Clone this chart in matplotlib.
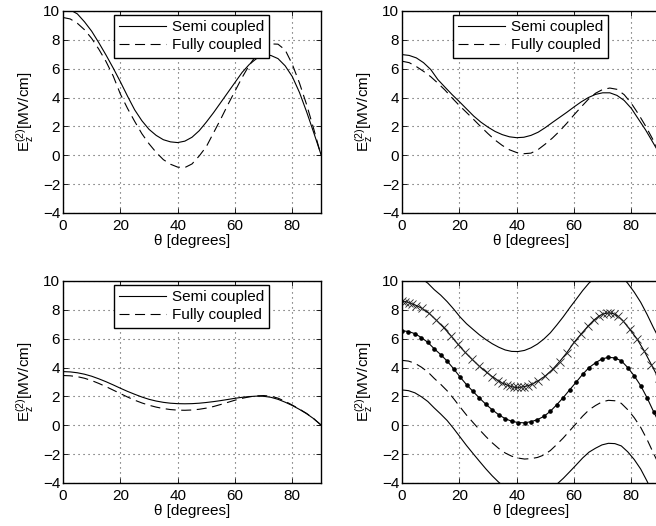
import numpy as np
import matplotlib
matplotlib.use("Agg")
import matplotlib.pyplot as plt

plt.rcParams["font.family"] = ["Liberation Sans", "DejaVu Sans"]
plt.rcParams["mathtext.fontset"] = "custom"
plt.rcParams["mathtext.rm"] = "Liberation Sans"
plt.rcParams["mathtext.it"] = "Liberation Sans"
plt.rcParams["font.size"] = 11

# theta grid for the three two-curve panels
theta = np.arange(0, 90.01, 2.5)

semi_a = [10.15, 10.08, 9.80, 9.25, 8.60, 7.80, 6.95, 6.05, 5.10, 4.10, 3.15, 2.40, 1.80,
          1.38, 1.08, 0.93, 0.88, 0.98, 1.25, 1.70, 2.30, 2.95, 3.65, 4.35, 5.05, 5.75,
          6.30, 6.70, 6.92, 6.92, 6.70, 6.20, 5.45, 4.35, 3.00, 1.55, 0.05]
fully_a = [9.55, 9.45, 9.15, 8.70, 8.10, 7.35, 6.50, 5.50, 4.25, 3.25, 2.35, 1.50, 0.80,
           0.20, -0.30, -0.62, -0.82, -0.85, -0.60, -0.05, 0.60, 1.55, 2.50, 3.50, 4.45,
           5.40, 6.25, 6.95, 7.45, 7.72, 7.70, 7.30, 6.30, 5.00, 3.50, 1.80, 0.00]

semi_b = [6.98, 6.92, 6.75, 6.42, 5.95, 5.25, 4.72, 4.20, 3.72, 3.22, 2.72, 2.30, 1.95,
          1.65, 1.43, 1.28, 1.22, 1.25, 1.38, 1.60, 1.92, 2.28, 2.63, 2.98, 3.35, 3.70,
          4.00, 4.22, 4.33, 4.33, 4.15, 3.80, 3.25, 2.50, 1.75, 0.90, 0.05]
fully_b = [6.52, 6.42, 6.15, 5.82, 5.45, 5.00, 4.52, 3.97, 3.45, 2.97, 2.48, 1.98, 1.50,
           1.05, 0.68, 0.38, 0.19, 0.11, 0.15, 0.40, 0.78, 1.20, 1.68, 2.22, 2.80, 3.35,
           3.88, 4.30, 4.56, 4.66, 4.57, 4.20, 3.60, 2.85, 2.02, 1.10, 0.10]

semi_c = [3.72, 3.70, 3.64, 3.54, 3.40, 3.22, 3.02, 2.80, 2.57, 2.35, 2.15, 1.96, 1.80,
          1.68, 1.59, 1.53, 1.50, 1.49, 1.50, 1.53, 1.58, 1.64, 1.71, 1.79, 1.87, 1.94,
          1.99, 2.02, 2.01, 1.94, 1.80, 1.60, 1.37, 1.10, 0.80, 0.45, 0.02]
fully_c = [3.45, 3.43, 3.37, 3.26, 3.10, 2.90, 2.68, 2.44, 2.20, 1.96, 1.74, 1.55, 1.39,
           1.26, 1.16, 1.09, 1.05, 1.04, 1.06, 1.11, 1.19, 1.30, 1.44, 1.59, 1.74, 1.87,
           1.97, 2.04, 2.06, 2.02, 1.88, 1.66, 1.40, 1.12, 0.82, 0.45, 0.02]

# fourth panel: mean curve with dots, bands around it
theta_d = np.arange(0, 90.01, 2.25)
mean_d = [6.55, 6.50, 6.35, 6.08, 5.75, 5.30, 4.90, 4.45, 3.92, 3.35, 2.82, 2.35, 1.89,
          1.46, 1.07, 0.73, 0.46, 0.28, 0.19, 0.17, 0.25, 0.39, 0.62, 0.97, 1.43, 1.92,
          2.46, 2.99, 3.53, 4.00, 4.33, 4.60, 4.71, 4.67, 4.47, 4.00, 3.43, 2.75, 1.90,
          0.95, 0.05]
minus1_d = [4.50, 4.45, 4.30, 4.03, 3.70, 3.25, 2.84, 2.39, 1.85, 1.27, 0.71, 0.20, -0.30,
            -0.78, -1.22, -1.61, -1.92, -2.14, -2.27, -2.34, -2.31, -2.23, -2.06, -1.75,
            -1.33, -0.88, -0.38, 0.12, 0.63, 1.07, 1.37, 1.62, 1.73, 1.70, 1.52, 1.08,
            0.53, -0.14, -0.99, -1.95, -2.87]
plus2_d = [10.65, 10.60, 10.45, 10.18, 9.85, 9.40, 9.02, 8.57, 8.06, 7.51, 7.04, 6.65,
           6.27, 5.94, 5.65, 5.41, 5.22, 5.12, 5.11, 5.19, 5.37, 5.63, 5.98, 6.41, 6.95,
           7.52, 8.14, 8.73, 9.33, 9.86, 10.25, 10.56, 10.67, 10.61, 10.37, 9.84, 9.23,
           8.53, 7.68, 6.75, 5.89]
minus2_d = [2.45, 2.40, 2.25, 1.98, 1.65, 1.20, 0.78, 0.33, -0.22, -0.81, -1.40, -1.95,
            -2.49, -3.02, -3.51, -3.95, -4.30, -4.56, -4.73, -4.85, -4.87, -4.85, -4.74,
            -4.47, -4.09, -3.68, -3.22, -2.75, -2.27, -1.86, -1.59, -1.36, -1.25, -1.27,
            -1.43, -1.84, -2.37, -3.03, -3.88, -4.85, -5.79]

theta_x = [0, 1.2, 2.4, 3.6, 5, 7, 9.5, 12, 14.5, 17, 19.5, 22, 24.5, 27, 29.5, 31.5,
           33.5, 35, 36.5, 37.8, 39, 40.2, 41.4, 42.6, 44, 45.5, 47.5, 50, 52.5, 55,
           57.5, 60, 62.5, 65, 67, 68.8, 70.2, 71.4, 72.6, 73.8, 75.2, 77, 79.5, 82,
           84.5, 87, 89.5]
plus1_x = [8.59, 8.57, 8.50, 8.41, 8.30, 8.10, 7.75, 7.28, 6.78, 6.22, 5.62, 5.06, 4.56,
           4.09, 3.67, 3.37, 3.10, 2.92, 2.80, 2.70, 2.64, 2.62, 2.64, 2.68, 2.75, 2.86,
           3.08, 3.42, 3.87, 4.42, 5.03, 5.74, 6.33, 6.90, 7.30, 7.58, 7.72, 7.77, 7.78,
           7.73, 7.58, 7.26, 6.64, 5.98, 5.15, 4.20, 3.25]

yticks = [-4, -2, 0, 2, 4, 6, 8, 10]
xticks = [0, 20, 40, 60, 80]
dash = (0, (9, 5))
lw = 0.8

fig = plt.figure(figsize=(6.56, 5.26), dpi=100)
W, H = 656, 526
boxes = [(63, 11), (402, 11), (63, 281), (402, 281)]
axes = []
for x0, y0 in boxes:
    ax = fig.add_axes([x0 / W, 1 - (y0 + 202) / H, 258 / W, 202 / H])
    ax.set_xlim(0, 90)
    ax.set_ylim(-4, 10)
    ax.set_xticks(xticks)
    ax.set_yticks(yticks)
    ax.grid(True, linestyle=(0, (1, 3.5)), color="0.3", linewidth=0.8)
    ax.tick_params(direction="in", top=True, right=True, length=3.5, width=0.6)
    ax.tick_params(axis="y", pad=2)
    ax.tick_params(axis="x", pad=4)
    for s in ax.spines.values():
        s.set_linewidth(1.0)
    ax.set_xlabel("θ [degrees]", labelpad=1)
    ax.set_ylabel(r"$\mathrm{E_z^{(2)}}$[MV/cm]", labelpad=5)
    axes.append(ax)

pairs = [(semi_a, fully_a), (semi_b, fully_b), (semi_c, fully_c)]
for ax, (s, f) in zip(axes[:3], pairs):
    ax.plot(theta, s, color="k", lw=lw, label="Semi coupled")
    ax.plot(theta, f, color="k", lw=lw, linestyle=dash, label="Fully coupled")
    ax.legend(loc="upper right", bbox_to_anchor=(0.80, 0.98), borderaxespad=0,
              fancybox=False, edgecolor="k", framealpha=1, handlelength=3.1,
              handletextpad=0.35, labelspacing=0.25, borderpad=0.35, fontsize=11)

ax = axes[3]
ax.plot(theta_d, plus2_d, color="k", lw=lw)
ax.plot(theta_d, minus2_d, color="k", lw=lw)
ax.plot(theta_d, minus1_d, color="k", lw=lw, linestyle=dash)
ax.plot(theta_d, mean_d, color="k", lw=lw, marker="o", ms=2.3)
ax.plot(theta_x, plus1_x, color="k", lw=lw, marker="x", ms=6, mew=0.6,
        markeredgecolor="0.15")

fig.savefig("out.png", dpi=100)
